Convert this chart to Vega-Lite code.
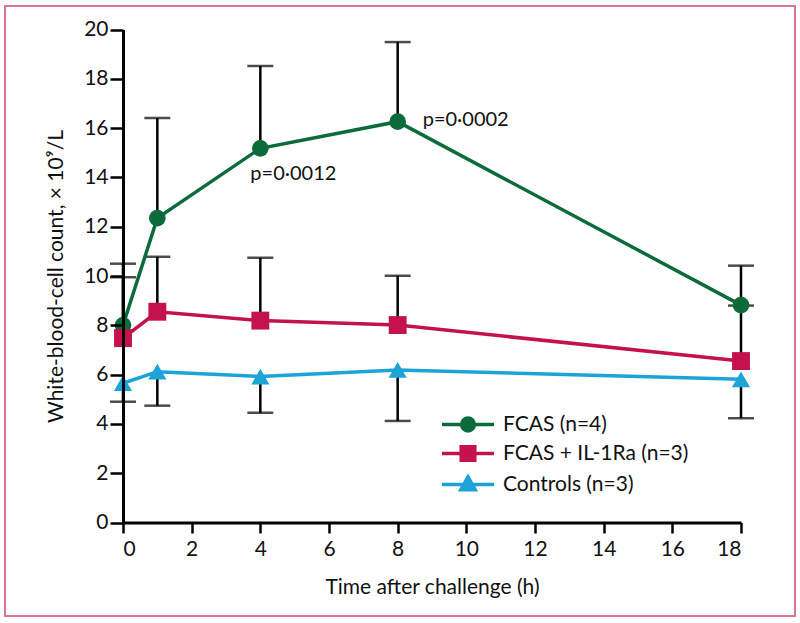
{
  "$schema": "https://vega.github.io/schema/vega-lite/v6.json",
  "autosize": "none",
  "width": 790,
  "height": 610,
  "padding": {"left": 5, "top": 6, "right": 5, "bottom": 7},
  "background": "white",
  "config": {
    "font": "Lato",
    "view": {"stroke": "#dc7499", "strokeWidth": 2},
    "axis": {"grid": false, "domainColor": "black", "domainWidth": 3, "tickColor": "black", "tickWidth": 2.5, "labelFont": "Lato", "labelFontSize": 21, "labelColor": "#111", "titleFont": "Lato", "titleFontSize": 21, "titleFontWeight": "normal", "titleColor": "#111"}
  },
  "data": {
    "values": [
      {"group": "FCAS (n=4)", "t": 0, "wbc": 8.0, "bar": 10.5},
      {"group": "FCAS (n=4)", "t": 1, "wbc": 12.35, "bar": 16.41},
      {"group": "FCAS (n=4)", "t": 4, "wbc": 15.18, "bar": 18.52},
      {"group": "FCAS (n=4)", "t": 8, "wbc": 16.26, "bar": 19.49},
      {"group": "FCAS (n=4)", "t": 18, "wbc": 8.82, "bar": 10.42},
      {"group": "FCAS + IL-1Ra (n=3)", "t": 0, "wbc": 7.48, "bar": 9.95},
      {"group": "FCAS + IL-1Ra (n=3)", "t": 1, "wbc": 8.55, "bar": 10.78},
      {"group": "FCAS + IL-1Ra (n=3)", "t": 4, "wbc": 8.19, "bar": 10.74},
      {"group": "FCAS + IL-1Ra (n=3)", "t": 8, "wbc": 8.01, "bar": 10.01},
      {"group": "FCAS + IL-1Ra (n=3)", "t": 18, "wbc": 6.55, "bar": 8.8},
      {"group": "Controls (n=3)", "t": 0, "wbc": 5.65, "bar": 4.9},
      {"group": "Controls (n=3)", "t": 1, "wbc": 6.12, "bar": 4.74},
      {"group": "Controls (n=3)", "t": 4, "wbc": 5.92, "bar": 4.45},
      {"group": "Controls (n=3)", "t": 8, "wbc": 6.19, "bar": 4.12},
      {"group": "Controls (n=3)", "t": 18, "wbc": 5.81, "bar": 4.23}
    ]
  },
  "encoding": {
    "x": {"field": "t", "type": "quantitative",
      "scale": {"domain": [0, 18], "range": [118, 736], "nice": false, "zero": false},
      "axis": {"orient": "bottom", "offset": -93.5, "values": [0, 2, 4, 6, 8, 10, 12, 14, 16, 18], "tickSize": 10.5, "labelPadding": 5, "title": "Time after challenge (h)", "titlePadding": 17}},
    "y": {"field": "wbc", "type": "quantitative",
      "scale": {"domain": [0, 20], "range": [516.5, 23.5], "nice": false, "zero": false},
      "axis": {"orient": "left", "offset": -118, "values": [0, 2, 4, 6, 8, 10, 12, 14, 16, 18, 20], "tickSize": 13, "labelPadding": 2, "zindex": 1, "title": "White-blood-cell count, × 10⁹/L", "titlePadding": 17}}
  },
  "layer": [
    {
      "mark": {"type": "rule", "color": "black", "strokeWidth": 2.5},
      "encoding": {"y2": {"field": "bar"}}
    },
    {
      "mark": {"type": "tick", "orient": "horizontal", "color": "black", "thickness": 2.5, "size": 26},
      "encoding": {"y": {"field": "bar", "type": "quantitative"}}
    },
    {
      "transform": [{"filter": "datum.group == 'FCAS (n=4)'"}],
      "mark": {"type": "line", "strokeWidth": 3.5, "color": "#0b6b3b"},
      "encoding": {}
    },
    {
      "transform": [{"filter": "datum.group == 'FCAS + IL-1Ra (n=3)'"}],
      "mark": {"type": "line", "strokeWidth": 3.5, "color": "#c3124c"},
      "encoding": {}
    },
    {
      "transform": [{"filter": "datum.group == 'Controls (n=3)'"}],
      "mark": {"type": "line", "strokeWidth": 3.5, "color": "#1ca4d6"},
      "encoding": {}
    },
    {
      "transform": [{"filter": "datum.group == 'FCAS (n=4)'"}],
      "mark": {"type": "point", "shape": "circle", "filled": true, "opacity": 1, "size": 280, "color": "#0b6b3b"}
    },
    {
      "transform": [{"filter": "datum.group == 'FCAS + IL-1Ra (n=3)'"}],
      "mark": {"type": "point", "shape": "square", "filled": true, "opacity": 1, "size": 320, "color": "#c3124c"}
    },
    {
      "transform": [{"filter": "datum.group == 'Controls (n=3)'"}],
      "mark": {"type": "point", "shape": "triangle-up", "filled": true, "opacity": 1, "size": 330, "color": "#1ca4d6"}
    },
    {
      "transform": [{"filter": "datum.t == 4 && datum.group == 'FCAS (n=4)'"}],
      "mark": {"type": "text", "text": "p=0·0012", "align": "center", "baseline": "alphabetic", "dx": 33, "dy": 32, "fontSize": 20, "font": "Lato", "color": "#111"}
    },
    {
      "transform": [{"filter": "datum.t == 8 && datum.group == 'FCAS (n=4)'"}],
      "mark": {"type": "text", "text": "p=0·0002", "align": "left", "baseline": "alphabetic", "dx": 25, "dy": 4, "fontSize": 20, "font": "Lato", "color": "#111"}
    },
    {
      "mark": {"type": "point", "filled": true, "size": 256, "strokeWidth": 3.5, "opacity": 0},
      "encoding": {
        "fill": {"field": "group", "type": "nominal",
          "scale": {"domain": ["FCAS (n=4)", "FCAS + IL-1Ra (n=3)", "Controls (n=3)"], "range": ["#0b6b3b", "#c3124c", "#1ca4d6"]},
          "legend": {"title": null, "orient": "none", "legendX": 452.5, "legendY": 408, "symbolSize": 256, "symbolStrokeWidth": 3.5, "labelFontSize": 21, "labelFont": "Lato", "labelColor": "#111", "labelOffset": 24.5, "labelLimit": 400, "rowPadding": 1, "padding": 0, "symbolOpacity": 1}},
        "stroke": {"field": "group", "type": "nominal",
          "scale": {"domain": ["FCAS (n=4)", "FCAS + IL-1Ra (n=3)", "Controls (n=3)"], "range": ["#0b6b3b", "#c3124c", "#1ca4d6"]},
          "legend": {"title": null, "orient": "none", "legendX": 452.5, "legendY": 408, "symbolSize": 256, "symbolStrokeWidth": 3.5, "labelFontSize": 21, "labelFont": "Lato", "labelColor": "#111", "labelOffset": 24.5, "labelLimit": 400, "rowPadding": 1, "padding": 0, "symbolOpacity": 1}},
        "shape": {"field": "group", "type": "nominal",
          "scale": {"domain": ["FCAS (n=4)", "FCAS + IL-1Ra (n=3)", "Controls (n=3)"], "range": [
            "M-3.25,0H3.25M0.8,0A0.8,0.8,0,1,1,-0.8,0A0.8,0.8,0,1,1,0.8,0Z",
            "M-3.25,0H3.25M-0.85,-0.85H0.85V0.85H-0.85Z",
            "M-3.25,0H3.25M0,-0.95L0.9,0.65H-0.9Z"]},
          "legend": {"title": null, "orient": "none", "legendX": 452.5, "legendY": 408, "symbolSize": 256, "symbolStrokeWidth": 3.5, "labelFontSize": 21, "labelFont": "Lato", "labelColor": "#111", "labelOffset": 24.5, "labelLimit": 400, "rowPadding": 1, "padding": 0, "symbolOpacity": 1}}
      }
    }
  ]
}
